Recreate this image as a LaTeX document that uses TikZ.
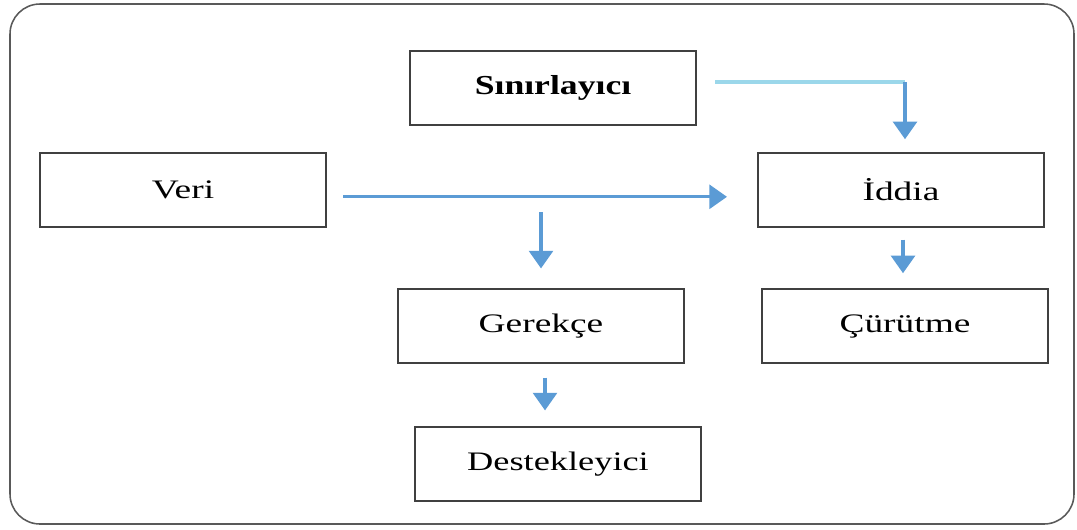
\documentclass[tikz,border=0pt]{standalone}
\usepackage{fontspec}
\usepackage{graphicx}
\setmainfont{Liberation Serif}
\usetikzlibrary{arrows.meta}
\definecolor{okblue}{HTML}{5B9BD5}
\definecolor{okcyan}{HTML}{9BD7EA}
\definecolor{kutu}{HTML}{404040}
\newcommand{\genis}[1]{\scalebox{1.4}[1]{#1}}
\begin{document}
\begin{tikzpicture}[x=0.025cm,y=-0.025cm,
	box/.style={draw=kutu,line width=1.4pt,minimum width=7.15cm,minimum height=1.83cm,inner sep=0pt,font=\fontsize{19}{22}\selectfont},
	ok/.style={draw=okblue,line width=2.2pt,-{Triangle[width=17pt,length=12.5pt]}}]
	\useasboundingbox (0,0) rectangle (1077,529);
	\draw[gray!70!black,line width=1.1pt,rounded corners=0.75cm] (10,4) rectangle (1074,524);

	\node[box,font=\fontsize{19.5}{22}\selectfont\bfseries] (sinir) at (553,88) {\scalebox{1.3}[1]{Sınırlayıcı}};
	\node[box] (veri) at (183,190) {\genis{Veri}};
	\node[box] (iddia) at (901,190) {\genis{İddia}};
	\node[box] (gerekce) at (541,326) {\genis{Gerekçe}};
	\node[box] (curutme) at (905,326) {\genis{Çürütme}};
	\node[box] (destek) at (558,464) {\scalebox{1.36}[1]{Destekleyici}};

	% oklar
	\coordinate (kose) at ([xshift=0.1cm]iddia.north |- sinir.east);
	\draw[okcyan,line width=2.2pt] ([shift={(0.45cm,0.15cm)}]sinir.east) -- ([yshift=0.15cm]kose);
	\draw[ok,shorten >=0.33cm] ([yshift=0.15cm]kose) -- ([xshift=0.1cm]iddia.north);
	\draw[ok,shorten <=0.4cm,shorten >=0.75cm] ([yshift=-0.17cm]veri.east) -- ([yshift=-0.17cm]iddia.west);
	\coordinate (ayrim) at ([yshift=1.9cm]gerekce.north);
	\draw[ok,shorten >=0.5cm] (ayrim) -- (gerekce.north);
	\draw[ok,shorten <=0.3cm,shorten >=0.38cm] ([xshift=0.05cm]iddia.south) -- ([xshift=0.05cm]iddia.south |- curutme.north);
	\draw[ok,shorten <=0.35cm,shorten >=0.4cm] ([xshift=0.1cm]gerekce.south) -- ([xshift=0.1cm]gerekce.south |- destek.north);
\end{tikzpicture}
\end{document}
